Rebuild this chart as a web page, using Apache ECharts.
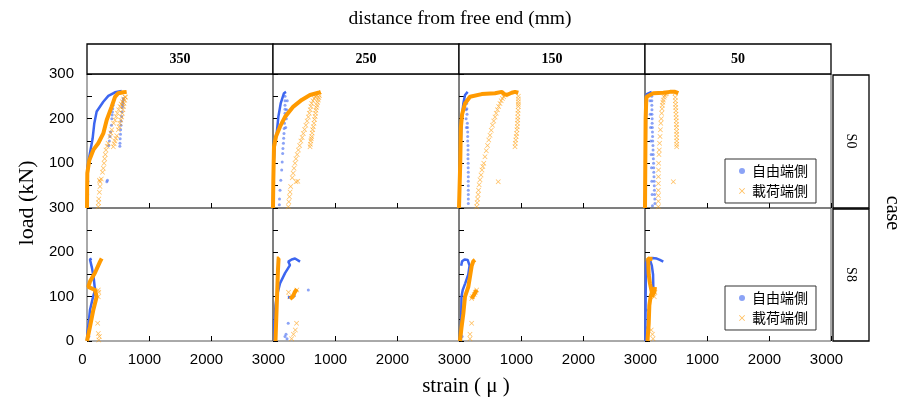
<!DOCTYPE html>
<html><head><meta charset="utf-8">
<script src="https://cdn.jsdelivr.net/npm/echarts@6/dist/echarts.min.js"></script>
<style>html,body{margin:0;padding:0;background:#fff}#c{width:902px;height:401px}</style>
</head><body><div id="c"></div>
<script>
// ---------- categories / labels ----------
const distances = ['350', '250', '150', '50'];
const cases = ['S0', 'S8'];
const seriesNames = ['自由端側', '載荷端側'];
const xTicks = [0, 1000, 2000, 3000];
const yTicks = [0, 100, 200, 300];

// ---------- data: [strain (μ), load (kN)] ----------
// S0, 350
const S0_350_freeMain = [[[0,0],[5,40],[5,75],[10,92],[48,123],[90,155],[118,190],[156,216],[263,238],[344,251],[452,259],[560,262]]];
const S0_350_freeSparse = [[585,245],[582,240],[578,235],[574,230],[570,225],[565,215],[558,205],[550,195],[548,185],[542,175],[540,165],[535,155],[532,145],[530,138],[430,240],[420,230],[415,222],[410,215],[405,208],[400,200],[395,185],[380,170],[370,160],[360,150],[350,140],[320,59],[330,62],[10,50],[10,30],[15,60]];
const S0_350_loadMain = [[[0,0],[2,40],[5,78],[37,107],[102,130],[182,145],[263,167],[318,197],[398,227],[452,249],[505,257],[586,259],[640,260]]];
const S0_350_loadSparse = [[182,3],[186,12],[190,20],[200,35],[210,48],[230,65],[250,80],[263,89],[275,100],[285,110],[295,120],[306,130],[325,138],[340,145],[371,160],[385,168],[400,175],[430,190],[452,197],[470,205],[490,212],[510,220],[532,227],[550,233],[570,238],[590,244],[613,249],[424,137],[438,144],[450,150],[465,156],[480,162],[505,175],[518,182],[530,190],[545,197],[560,204],[570,212],[580,220],[590,227],[597,234],[610,241],[620,248],[210,59],[200,62]];
// S0, 250
const S0_250_freeMain = [[[0,0],[5,50],[10,100],[32,145],[60,167],[86,204],[124,234],[177,257],[210,260]]];
const S0_250_freeSparse = [[194,250],[194,240],[194,230],[194,221],[194,212],[190,200],[185,190],[180,178],[177,167],[172,156],[168,145],[160,133],[156,122],[148,103],[140,85],[125,62],[113,40],[105,20],[102,7],[230,240],[220,220],[215,200],[205,180]];
const S0_250_loadMain = [[[0,0],[5,60],[16,137],[48,160],[113,182],[194,204],[328,227],[463,242],[597,253],[731,258],[770,260]]];
const S0_250_loadSparse = [[247,3],[255,14],[265,25],[275,36],[285,48],[310,68],[325,78],[339,89],[355,100],[370,110],[390,120],[409,130],[430,140],[450,150],[470,158],[489,167],[510,176],[530,185],[550,195],[570,204],[585,212],[600,220],[612,227],[624,234],[645,240],[665,245],[685,249],[705,253],[597,137],[603,143],[610,150],[617,155],[624,160],[632,168],[640,175],[650,182],[661,190],[670,198],[680,205],[686,212],[693,219],[700,225],[710,230],[720,236],[731,242],[740,247],[750,252],[371,59],[400,60]];
// S0, 150
const S0_150_freeMain = [[[0,0],[10,50],[20,120],[43,197],[70,234],[97,253],[140,260]]];
const S0_150_freeSparse = [[124,234],[127,222],[130,210],[135,190],[138,180],[140,170],[140,160],[140,150],[145,140],[145,130],[145,120],[145,110],[148,100],[148,90],[150,80],[150,70],[150,60],[150,50],[150,40],[150,30],[150,20],[150,10],[110,240],[115,220],[115,200],[120,180]];
const S0_150_loadMain = [[[0,0],[20,100],[30,180],[50,210],[97,234],[177,249],[366,255],[581,257],[688,260],[730,255],[769,253],[850,258],[903,260],[957,258]]];
const S0_150_loadSparse = [[285,3],[292,12],[300,20],[308,30],[315,40],[325,52],[339,63],[355,74],[370,85],[385,93],[400,100],[419,115],[440,128],[460,140],[480,152],[500,163],[520,174],[540,185],[560,195],[581,204],[600,212],[620,220],[640,227],[661,234],[680,240],[700,245],[720,249],[742,253],[957,250],[957,244],[957,238],[957,232],[957,227],[953,219],[950,212],[948,204],[947,197],[943,190],[940,182],[935,175],[930,167],[922,160],[915,152],[908,145],[903,137],[633,59]];
// S0, 50
const S0_50_freeMain = [[[0,0],[10,100],[15,200],[20,245],[27,255],[108,260]]];
const S0_50_freeSparse = [[108,250],[110,240],[110,230],[112,220],[112,210],[115,200],[115,190],[118,180],[120,170],[122,160],[125,150],[128,140],[130,130],[132,120],[135,110],[138,100],[140,90],[142,80],[145,70],[148,60],[150,50],[152,40],[155,30],[158,20],[160,10],[80,240],[85,210],[90,180],[95,150],[100,120],[105,90],[110,60],[115,30],[120,5]];
const S0_50_loadMain = [[[0,0],[5,100],[10,200],[20,240],[27,249],[134,257],[295,258],[403,260],[484,260],[538,257]]];
const S0_50_loadSparse = [[215,3],[215,15],[215,28],[215,40],[216,55],[217,70],[218,85],[220,100],[225,120],[230,130],[235,145],[242,160],[248,175],[255,190],[262,200],[269,212],[275,222],[280,230],[288,237],[295,242],[308,248],[320,252],[335,255],[350,257],[484,257],[488,248],[490,240],[493,232],[495,225],[498,218],[500,210],[503,202],[505,195],[508,187],[508,180],[510,172],[510,165],[511,157],[511,150],[511,143],[511,137],[457,59]];
// S8, 350
const S8_350_freeMain = [[[0,0],[5,17],[30,45],[48,70],[90,95],[129,115],[110,140],[80,165],[48,184],[75,186]]];
const S8_350_freeSparse = [[10,5],[30,10],[20,25]];
const S8_350_loadMain = [[[0,0],[48,32],[102,70],[156,100],[129,115],[21,122],[48,134],[129,154],[210,179],[237,186]]];
const S8_350_loadSparse = [[182,115],[190,110],[182,100],[172,40],[182,17],[190,2],[200,10]];
// S8, 250
const S8_250_freeMain = [[[20,0],[20,40],[40,80],[60,100],[113,130],[194,153],[274,171],[247,179],[301,184],[355,186],[436,179]],[[240,98],[270,97],[300,99],[330,100],[360,103]]];
const S8_250_freeSparse = [[570,115],[226,5],[210,15],[194,10],[245,40]];
const S8_250_loadMain = [[[40,0],[50,40],[60,80],[70,120],[80,160],[90,186],[60,186]],[[274,95],[320,100],[350,110],[385,117]]];
const S8_250_loadSparse = [[250,110],[270,100],[385,115],[380,40],[300,5],[330,15],[360,25]];
// S8, 150
const S8_150_freeMain = [[[30,0],[35,50],[40,100],[60,115],[100,130],[150,150],[170,170],[140,183],[90,184],[50,180],[35,170]]];
const S8_150_freeSparse = [[50,10],[40,60]];
const S8_150_loadMain = [[[16,0],[40,30],[70,62],[97,100],[150,122],[177,145],[204,169],[231,180],[258,183]],[[204,96],[245,105],[285,115]]];
const S8_150_loadSparse = [[204,96],[220,100],[245,105],[265,110],[285,115],[204,40],[177,5],[177,15]];
// S8, 50
const S8_50_freeMain = [[[5,0],[8,60],[12,120],[15,175],[54,186],[120,187],[190,186],[240,183],[295,179]],[[134,107],[134,122],[130,150],[110,170],[80,183]]];
const S8_50_freeSparse = [[20,30],[25,70]];
const S8_50_loadMain = [[[40,0],[60,40],[70,80],[90,100],[110,110],[80,130],[60,150],[50,186],[120,185]],[[108,100],[150,110],[161,122]]];
const S8_50_loadSparse = [[130,5],[120,15],[100,25],[160,110],[150,100]];

// ---------- assemble ----------
const panelData = {
  S0_350: [S0_350_freeMain, S0_350_freeSparse, S0_350_loadMain, S0_350_loadSparse],
  S0_250: [S0_250_freeMain, S0_250_freeSparse, S0_250_loadMain, S0_250_loadSparse],
  S0_150: [S0_150_freeMain, S0_150_freeSparse, S0_150_loadMain, S0_150_loadSparse],
  S0_50:  [S0_50_freeMain,  S0_50_freeSparse,  S0_50_loadMain,  S0_50_loadSparse],
  S8_350: [S8_350_freeMain, S8_350_freeSparse, S8_350_loadMain, S8_350_loadSparse],
  S8_250: [S8_250_freeMain, S8_250_freeSparse, S8_250_loadMain, S8_250_loadSparse],
  S8_150: [S8_150_freeMain, S8_150_freeSparse, S8_150_loadMain, S8_150_loadSparse],
  S8_50:  [S8_50_freeMain,  S8_50_freeSparse,  S8_50_loadMain,  S8_50_loadSparse]
};

const BLUE = '#3d66f0', ORANGE = '#ff9a00';
const xPath = 'path://M0,1L1,0L5,4L9,0L10,1L6,5L10,9L9,10L5,6L1,10L0,9L4,5Z';
const PL = 87, PW = 186, PT = 74, PH = [134, 133];
const tickFont = 'Liberation Sans';

const grids = [], xAxes = [], yAxes = [], series = [];
cases.forEach((cs, r) => {
  distances.forEach((d, c) => {
    const idx = r * 4 + c;
    grids.push({left: PL + c * PW, top: r === 0 ? PT : PT + PH[0], width: PW, height: PH[r],
      show: true, borderColor: '#555', borderWidth: 1, backgroundColor: 'transparent'});
    xAxes.push({type: 'value', gridIndex: idx, min: xTicks[0], max: xTicks[xTicks.length - 1], interval: 1000,
      axisLine: {show: false}, splitLine: {show: false},
      axisTick: {show: true, inside: true, length: 5, lineStyle: {color: '#000'}},
      axisLabel: {show: r === 1, showMinLabel: c === 0, fontSize: 15, color: '#000', fontFamily: tickFont, margin: 11,
        padding: [0, 9, 0, 0], formatter: v => String(v)}});
    yAxes.push({type: 'value', gridIndex: idx, min: yTicks[0], max: yTicks[yTicks.length - 1], interval: 50,
      axisLine: {show: false}, splitLine: {show: false},
      axisTick: {show: true, inside: true, length: 5, lineStyle: {color: '#000'}},
      axisLabel: {show: c === 0, fontSize: 15, color: '#000', fontFamily: tickFont, margin: 13,
        formatter: v => (yTicks.indexOf(v) >= 0 && !(r === 0 && v === 0)) ? String(v) : ''}});
    const [fm, fs, lm, ls] = panelData[cs + '_' + d];
    series.push({type: 'scatter', name: seriesNames[0], xAxisIndex: idx, yAxisIndex: idx, data: fs,
      symbol: 'circle', symbolSize: 3, itemStyle: {color: BLUE, opacity: 0.6}, z: 2});
    series.push({type: 'scatter', name: seriesNames[1], xAxisIndex: idx, yAxisIndex: idx, data: ls,
      symbol: xPath, symbolSize: 5, itemStyle: {color: ORANGE, opacity: 0.65}, z: 2});
    fm.forEach(seg => series.push({type: 'line', name: seriesNames[0], xAxisIndex: idx, yAxisIndex: idx, data: seg,
      showSymbol: false, symbol: 'none', lineStyle: {color: BLUE, width: 2.5}, itemStyle: {color: BLUE}, z: 3}));
    lm.forEach(seg => series.push({type: 'line', name: seriesNames[1], xAxisIndex: idx, yAxisIndex: idx, data: seg,
      showSymbol: false, symbol: 'none', lineStyle: {color: ORANGE, width: 4}, itemStyle: {color: ORANGE}, z: 4}));
  });
});

const legendData = [{name: seriesNames[0], icon: 'circle'}, {name: seriesNames[1], icon: xPath}];
const legendBase = {data: legendData, orient: 'vertical', left: 725, width: 80,
  backgroundColor: '#fff', borderColor: '#333', borderWidth: 1, borderRadius: 0,
  padding: [5, 8, 5, 14], itemGap: 6, itemWidth: 6, itemHeight: 6,
  textStyle: {fontSize: 14, color: '#000', fontFamily: 'Noto Sans CJK JP', padding: [0, 0, 0, 2]}};

const graphic = [];
function txt(x, y, text, font, rot) {
  return {type: 'text', x: x, y: y, rotation: rot || 0, z: 11,
    style: {text: text, font: font, fill: '#000', textAlign: 'center', textVerticalAlign: 'middle', align: 'center', verticalAlign: 'middle'}};
}
distances.forEach((d, c) => {
  graphic.push({type: 'rect', shape: {x: PL + c * PW, y: 44, width: PW, height: 30},
    style: {fill: '#fff', stroke: '#000', lineWidth: 1.3}, z: 10});
  graphic.push(txt(PL + c * PW + PW / 2, 59, d, 'bold 14px "Liberation Serif"'));
});
cases.forEach((cs, r) => {
  const top = r === 0 ? PT : PT + PH[0];
  graphic.push({type: 'rect', shape: {x: 833, y: top + 1, width: 36, height: PH[r] - 1},
    style: {fill: '#fff', stroke: '#000', lineWidth: 1.3}, z: 10});
  graphic.push(txt(851, top + PH[r] / 2, cs, '14px "Liberation Serif"', -Math.PI / 2));
});
graphic.push(txt(460, 19, 'distance from free end (mm)', '19.5px "Liberation Serif"'));
graphic.push(txt(466, 386, 'strain ( μ )', '21px "Liberation Serif"'));
graphic.push(txt(27, 203, 'load (kN)', '22px "Liberation Serif"', Math.PI / 2));
graphic.push(txt(892, 213, 'case', '20px "Liberation Serif"', -Math.PI / 2));

const chart = echarts.init(document.getElementById('c'), null, {renderer: 'canvas'});
chart.setOption({
  animation: false,
  backgroundColor: '#fff',
  grid: grids, xAxis: xAxes, yAxis: yAxes, series: series,
  legend: [Object.assign({}, legendBase, {top: 159}), Object.assign({}, legendBase, {top: 286})],
  graphic: graphic
});
</script>
</body></html>
